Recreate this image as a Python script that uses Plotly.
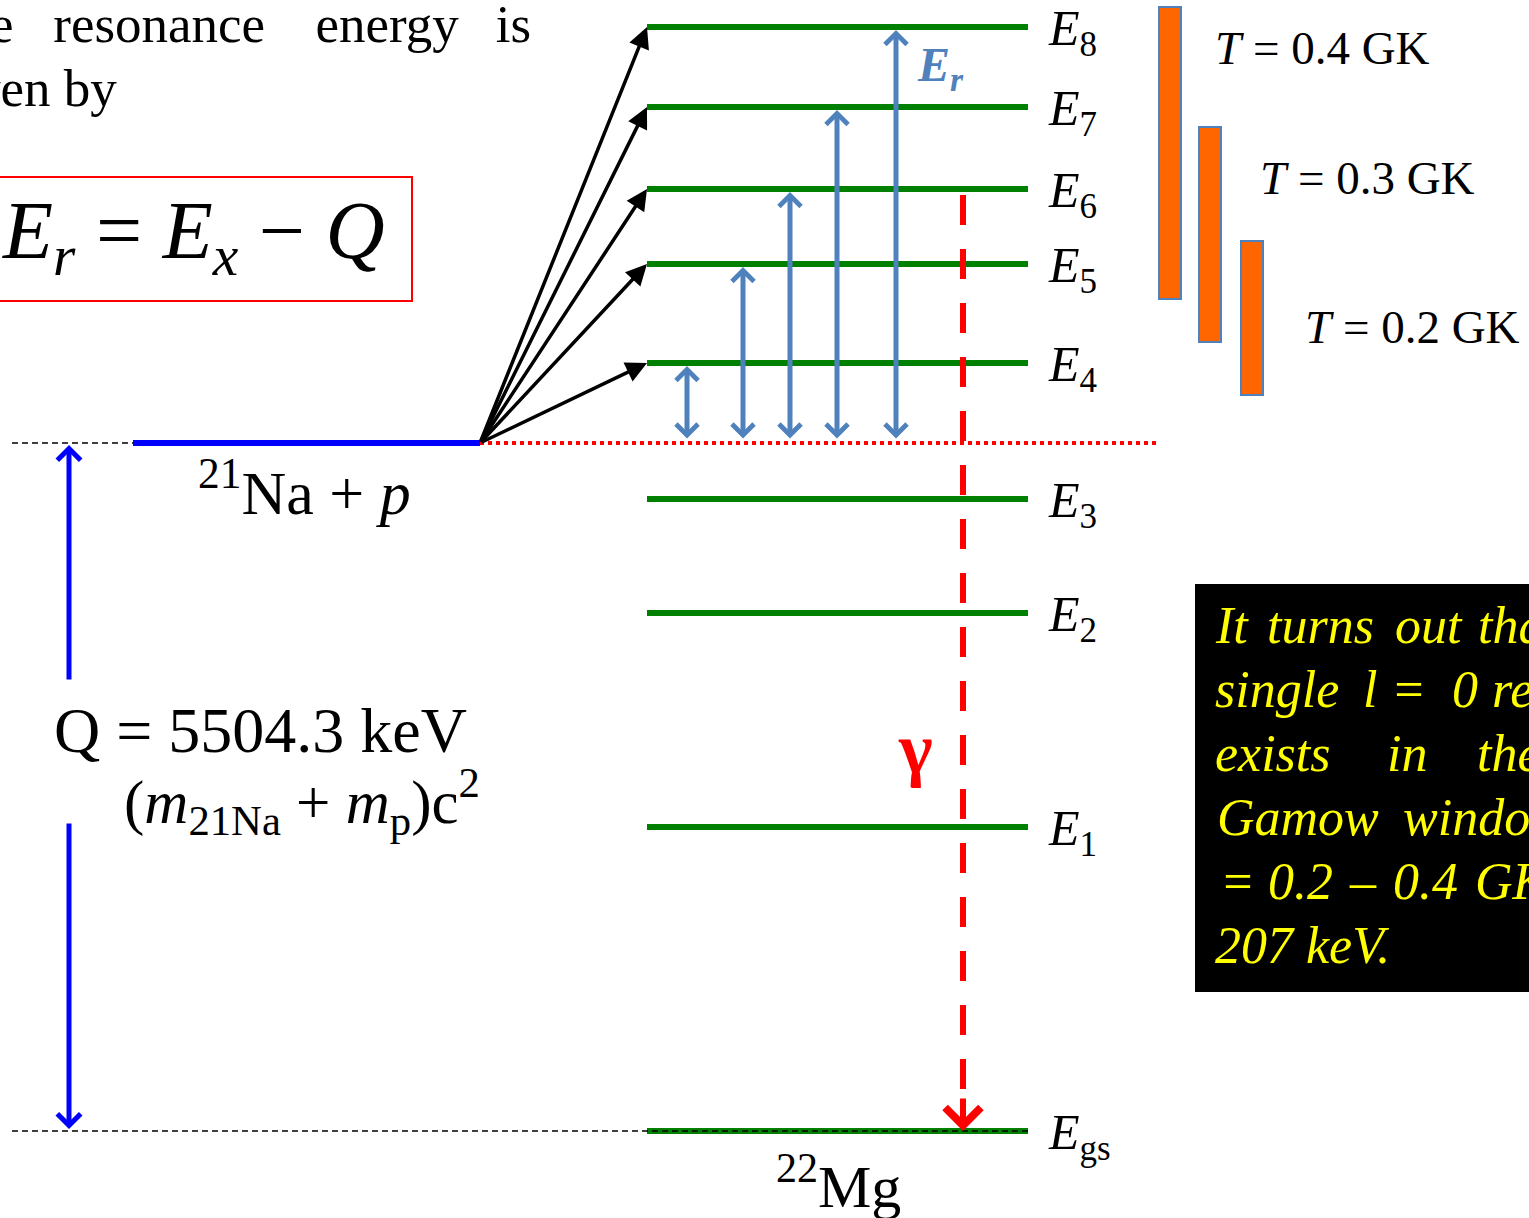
import plotly.graph_objects as go

# ---------------- data ----------------
level_labels = ["gs", "1", "2", "3", "4", "5", "6", "7", "8"]
level_pos = [1131, 827, 613, 499, 363, 264, 189, 107, 27]   # drawing units (down = lower energy)
threshold_pos = 443                                           # 21Na + p threshold
resonance_levels = [4, 5, 6, 7, 8]                            # levels above threshold
resonance_arrow_x = [687, 743, 790, 837, 896]
gamow_labels = ["T = 0.4 GK", "T = 0.3 GK", "T = 0.2 GK"]
gamow_top = [7, 127, 241]
gamow_bottom = [299, 342, 395]
gamow_x = [1170, 1210, 1252]
gamow_label_x = [1213, 1258, 1303]
gamow_label_y = [48, 178, 327]
# visible words of the (cropped) note box, per line
box_words = [["It", "turns", "out", "tha"],
             ["single", "l", "=", "0", "re"],
             ["exists", "in", "the"],
             ["Gamow", "windo"],
             ["=", "0.2", "–", "0.4", "GK"],
             ["207", "keV."]]
box_word_x = [[1213, 1265, 1393, 1476],
              [1213, 1361, 1389, 1450, 1490],
              [1213, 1385, 1475],
              [1215, 1401],
              [1218, 1266, 1347, 1391, 1473],
              [1213, 1304]]

SERIF = "Liberation Serif"
GREEN = "#008000"
STEEL = "#4F81BD"

fig = go.Figure()
shapes = []
ann = []


def nb(s):
    return s.replace(" ", "\u00a0")


# levels of 22Mg
for lab, y in zip(level_labels, level_pos):
    shapes.append(dict(type="line", x0=647, x1=1028, y0=y, y1=y,
                       line=dict(color=GREEN, width=6)))
    ann.append(dict(x=1046, y=y + 5, text="<i>E</i><sub>" + lab + "</sub>", showarrow=False,
                    xanchor="left", yanchor="middle",
                    font=dict(family=SERIF, size=50, color="black")))

# threshold lines
shapes.append(dict(type="line", x0=12, x1=133, y0=threshold_pos, y1=threshold_pos,
                   line=dict(color="black", width=1.5, dash="6px,4px")))
shapes.append(dict(type="line", x0=480, x1=1158, y0=threshold_pos, y1=threshold_pos,
                   line=dict(color="red", width=4, dash="4px,4px")))
shapes.append(dict(type="line", x0=133, x1=480, y0=threshold_pos, y1=threshold_pos,
                   line=dict(color="#0000FF", width=6)))
# ground-state dashed reference
shapes.append(dict(type="line", x0=12, x1=1028, y0=level_pos[0], y1=level_pos[0],
                   line=dict(color="black", width=1.5, dash="6px,4px")))

# gamma dashed line
shapes.append(dict(type="line", x0=963, x1=963, y0=level_pos[6] + 6, y1=level_pos[0] - 22,
                   line=dict(color="red", width=6, dash="30px,24px")))
ann.append(dict(x=963, y=level_pos[0], ax=963, ay=level_pos[0] - 34, axref="x", ayref="y",
                xref="x", yref="y", text="", showarrow=True, arrowhead=4, arrowsize=1.15,
                arrowwidth=6, arrowcolor="red"))

# black arrows from threshold to resonances
for lv in resonance_levels:
    y = level_pos[lv]
    ann.append(dict(x=647, y=y, ax=480, ay=threshold_pos, axref="x", ayref="y",
                    text="", showarrow=True, arrowhead=2, arrowsize=1.2, arrowwidth=3.5,
                    arrowcolor="black"))

# resonance energy double arrows
for lv, xa in zip(resonance_levels, resonance_arrow_x):
    y = level_pos[lv]
    ann.append(dict(x=xa, y=y + 3, ax=xa, ay=threshold_pos - 3, axref="x", ayref="y",
                    text="", showarrow=True, arrowhead=4, startarrowhead=4, arrowside="end+start",
                    arrowsize=0.85, startarrowsize=0.85, arrowwidth=5, arrowcolor=STEEL))

# Q arrows
ann.append(dict(x=69, y=threshold_pos + 2, ax=69, ay=681, axref="x", ayref="y", text="",
                showarrow=True, arrowhead=4, arrowsize=0.9, arrowwidth=5, arrowcolor="#0000FF"))
ann.append(dict(x=69, y=level_pos[0] - 2, ax=69, ay=822, axref="x", ayref="y", text="",
                showarrow=True, arrowhead=4, arrowsize=0.9, arrowwidth=5, arrowcolor="#0000FF"))

# Gamow window bars
for lab, top, bot, xc, lx, ly in zip(gamow_labels, gamow_top, gamow_bottom, gamow_x,
                                     gamow_label_x, gamow_label_y):
    shapes.append(dict(type="rect", x0=xc - 11, x1=xc + 11, y0=top, y1=bot,
                       fillcolor="#FF6600", line=dict(color=STEEL, width=2)))
    t = lab.split(" ", 1)
    ann.append(dict(x=lx, y=ly, text="<i>T</i>" + nb(" " + t[1]), showarrow=False,
                    xanchor="left", yanchor="middle",
                    font=dict(family=SERIF, size=47, color="black")))

# red formula box
shapes.append(dict(type="rect", x0=-5, x1=412, y0=177, y1=301,
                   line=dict(color="red", width=2), fillcolor="rgba(0,0,0,0)"))
ann.append(dict(x=0, y=236, text="<i>E</i><sub><i>r</i></sub>" + nb(" = ") + "<i>E</i><sub><i>x</i></sub>"
                + nb(" − ") + "<i>Q</i>", showarrow=False, xanchor="left", yanchor="middle",
                font=dict(family=SERIF, size=82, color="black")))

# black info box
shapes.append(dict(type="rect", x0=1195, x1=1560, y0=584, y1=992, fillcolor="black",
                   line=dict(color="black", width=0)))
for i, (words, xs) in enumerate(zip(box_words, box_word_x)):
    for w, wx in zip(words, xs):
        ann.append(dict(x=wx, y=625 + i * 64, text="<i>" + w + "</i>", showarrow=False,
                        xanchor="left", yanchor="middle",
                        font=dict(family=SERIF, size=52, color="#FFFF00")))

# top-left text (cropped at the left edge in the original)
ann.append(dict(x=533, y=24,
                text="e" + "\u00a0" * 3 + "resonance" + "\u00a0" * 3 + "\u2009" + "energy"
                     + "\u00a0" * 2 + "\u2009" + "is",
                showarrow=False, xanchor="right", yanchor="middle",
                font=dict(family=SERIF, size=53, color="black")))
ann.append(dict(x=119, y=88, text=nb("ven by"), showarrow=False,
                xanchor="right", yanchor="middle", font=dict(family=SERIF, size=53, color="black")))

# labels
ann.append(dict(x=304, y=488, text="<sup>21</sup>Na + <i>p</i>", showarrow=False,
                xanchor="center", yanchor="middle", font=dict(family=SERIF, size=62, color="black")))
ann.append(dict(x=52, y=730, text=nb("Q = 5504.3 keV"), showarrow=False,
                xanchor="left", yanchor="middle", font=dict(family=SERIF, size=64, color="black")))
ann.append(dict(x=122, y=801, text="(<i>m</i><sub>21Na</sub> + <i>m</i><sub>p</sub>)c<sup>2</sup>",
                showarrow=False, xanchor="left", yanchor="middle",
                font=dict(family=SERIF, size=61, color="black")))
ann.append(dict(x=940, y=68, text="<b><i>E<sub>r</sub></i></b>", showarrow=False,
                xanchor="center", yanchor="middle", font=dict(family=SERIF, size=48, color=STEEL)))
ann.append(dict(x=915, y=749, text="<b>γ</b>", showarrow=False,
                xanchor="center", yanchor="middle", font=dict(family=SERIF, size=72, color="red")))
ann.append(dict(x=838, y=1182, text="<sup>22</sup>Mg", showarrow=False,
                xanchor="center", yanchor="middle", font=dict(family=SERIF, size=60, color="black")))

fig.update_layout(width=1529, height=1218, margin=dict(l=0, r=0, t=0, b=0),
                  paper_bgcolor="white", plot_bgcolor="white",
                  xaxis=dict(range=[0, 1529], visible=False, fixedrange=True),
                  yaxis=dict(range=[1218, 0], visible=False, fixedrange=True),
                  shapes=shapes, annotations=ann, showlegend=False)
fig.write_html("out.html")
